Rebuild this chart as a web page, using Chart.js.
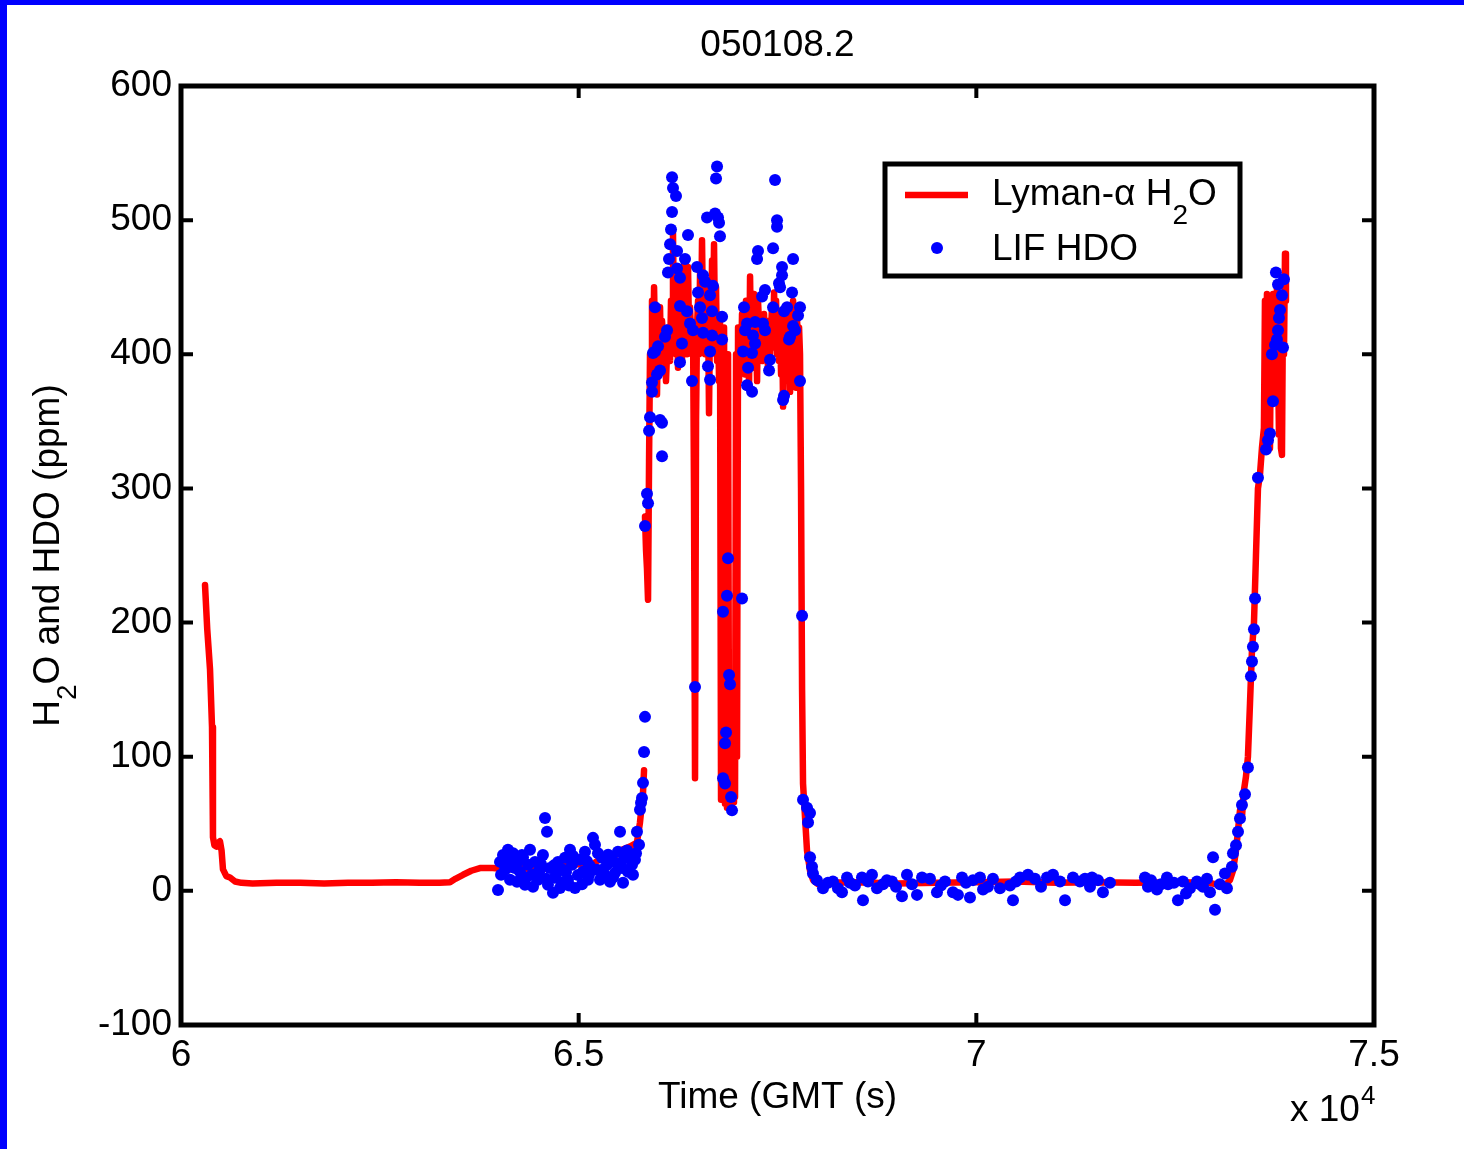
<!DOCTYPE html>
<html>
<head>
<meta charset="utf-8">
<title>050108.2</title>
<script src="https://cdn.jsdelivr.net/npm/chart.js@4.4.1/dist/chart.umd.min.js"></script>
<style>
  html, body { margin: 0; padding: 0; background: #fff; }
  #wrap { position: relative; width: 1464px; height: 1149px; overflow: hidden; }
  #c { position: absolute; left: 0; top: 0; }
  .edge { position: absolute; background: #0000ff; }
</style>
</head>
<body>
<div id="wrap">
  <canvas id="c" width="1464" height="1149"></canvas>
  <div class="edge" style="left:0;top:0;width:1464px;height:5px"></div>
  <div class="edge" style="left:0;top:0;width:7px;height:1149px"></div>
</div>
<script>
// Lyman-alpha H2O trace (time in s GMT, ppm); null = gap in the record
const lymanT = [
  60302, 60330, 60365, 60390, 60402, 60420, 60445, 60470, 60490, 60510, 60528, 60570, 60616, 60680, 60760,
  60900, 61200, 61500, 61800, 62100, 62400, 62700, 63000, 63250, 63382, 63450, 63546, 63650, 63759, 63923,
  64100, 64262, 64450, 64677, 64850, 65017, 65150, 65306, 65420, 65520, 65645, 65733, 65771, 65809, 65822,
  65828, 65834, 65847, 65859, 65872,
  65885, 65897, 65910, 65922, 65935, 65948, 65960, 65973, 65985, 65998, 66010, 66023, 66036, 66048, 66073,
  66086, 66098, 66123, 66149, 66161, 66174, 66186, 66199, 66211, 66224, 66237, 66249, 66262, 66274, 66287,
  66299, 66325, 66337, 66350, 66362, 66375, 66388, 66400, 66425, 66438, 66450, 66463, 66476, 66488, 66501,
  66513, 66526, 66538, 66551, 66564, 66576, 66589, 66601, 66614, 66626, 66639, 66652, 66664, 66677, 66689,
  66702, 66715, 66727, 66740, 66752, 66765, 66777, 66790, 66803, 66815, 66828, 66840, 66853, 66865, 66878,
  66891, 66903, 66916, 66928, 66941, 66953, 66966, 66979, 66991, 67004, 67016, 67029, 67042, 67054, 67067,
  67079, 67092, 67104, 67117, 67130, 67142, 67155, 67167, 67180, 67192, 67205, 67218, 67230, 67243, 67255,
  67280, 67293, 67306, 67331, 67343, 67356, 67381, 67394, 67406, 67431, 67444, 67457, 67469, 67482, 67494,
  67507, 67519, 67532, 67545, 67557, 67570, 67582, 67595, 67608, 67620, 67633, 67645, 67658, 67670, 67683,
  67696, 67708, 67721, 67733, 67746, 67758, 67771, 67783, 67796, 67809, 67821, 67846, 67871, 67909, 67947,
  68010, 68098, 68500, 69000, 69500, 70000, 70500, 71000, 71500, 72000, 72500, 72938, 73001, 73126, 73189,
  73227, 73265, 73290, 73315, 73340, 73365, 73390, 73415, 73441, 73466, 73491, 73516, 73541, 73566, 73591,
  73616, 73629, 73642, 73654, 73667, 73679, 73692, 73704, 73717, 73730, 73742, 73755, 73767, 73780, 73793,
  73805, 73818, 73830, 73843, 73856, 73868, 73881, 73893
];
const lymanV = [
  228, 195, 165, 122, 40, 34, 33, 36, 37, 30, 16, 11, 10, 7, 6,
  5.5, 6, 6, 5.5, 6, 6, 6.5, 6, 6, 6.5, 9, 12, 15, 17, 17,
  16, 17, 16, 17, 19, 20, 19, 25, 24, 30, 33, 36, 51, 73, 90,
  null, 279, 254, 240, 217,
  320, 400, 380, 440, 395, 450, 410, 430, 370, 420, 390, 435, 395, 425, 400,
  410, 380, 420, 395, 440, 410, 490, 420, 445, 400, 430, 390, 455, 410, 430,
  395, 470, 410, 440, 400, 465, 415, 435, 400, 420, 300, 84, 350, 420, 440,
  400, 460, 415, 485, 420, 445, 400, 455, 410, 440, 356, 430, 400, 470, 420,
  482, 410, 450, 395, 430, 380, 425, 68, 400, 70, 420, 65, 110, 62, 400,
  75, 95, 63, 105, 66, 110, 70, 400, 100, 420, 380, 410, 390, 430, 400,
  420, 385, 440, 400, 425, 375, 458, 405, 430, 390, 445, 400, 420, 380, 440,
  405, 425, 395, 430, 400, 415, 390, 425, 400, 435, 410, 446, 405, 440, 400,
  430, 395, 420, 385, 430, 361, 410, 425, 395, 435, 400, 420, 372, 425, 400,
  440, 390, 430, 375, 425, 410, 420, 400, 300, 150, 80, 55, 30, 15, 8,
  5, 6, 6.5, 5.5, 6, 6.5, 7, 6, 6.5, 6, 6.5, 6, 5, 4, 8,
  15, 30, 45, 60, 55, 75, 85, 100, 140, 180, 200, 250, 300, 310, 330,
  345, 440, 360, 445, 380, 440, 330, 420, 380, 445, 400, 430, 365, 450, 400,
  340, 430, 330, 325, 440, 400, 475, 440
];

// LIF HDO samples (time in s GMT, ppm)
const hdoT = [
  63986, 64011, 64049, 64074, 64111, 64137, 64162, 64199, 64225, 64262, 64287, 64325, 64363, 64388, 64413,
  64451, 64489, 64514, 64551, 64577, 64602, 64614, 64639, 64677, 64702, 64740, 64765, 64803, 64828, 64866,
  64891, 64916, 64954, 64991, 65017, 65054, 65079, 65117, 65142, 65180, 65205, 65230, 65268, 65293, 65331,
  65356, 65394, 65419, 65457, 65494, 65520, 65545, 65583, 65620, 65645, 65671, 65708, 65733, 65759, 65771,
  65784, 65796, 65809, 65822, 65834,
  64086, 64175, 64237, 64337, 64426, 64526, 64715, 64790, 64841, 64929, 65042, 65104, 65243, 65306, 65432,
  65482, 65558, 65608, 65683, 65721, 64024, 64150, 64300, 64470, 64590, 64690, 64880, 65130, 65370, 65530,
  65834, 65859, 65872, 65885, 65897, 65922, 65922, 65935, 65960, 65960, 65985, 65998, 66023, 66023, 66048,
  66048, 66086, 66111, 66123, 66136, 66149, 66161, 66174, 66174, 66186, 66224, 66237, 66237, 66274, 66274,
  66274, 66299, 66337, 66362, 66375, 66400, 66425, 66438, 66463, 66488, 66501, 66526, 66551, 66564, 66564,
  66589, 66614, 66626, 66652, 66652, 66652, 66677, 66677, 66689, 66715, 66727, 66740, 66752, 66765, 66777,
  66803, 66803, 66815, 66815, 66840, 66840, 66853, 66865, 66878, 66891, 66903, 66916, 66928,
  67054, 67067, 67079, 67092, 67117, 67117, 67130, 67180, 67180, 67192, 67218, 67218, 67243, 67255, 67306,
  67318, 67343, 67343, 67394, 67406, 67444, 67444, 67469, 67494, 67494, 67519, 67532, 67557, 67557, 67570,
  67582, 67582, 67620, 67645, 67658, 67683, 67696, 67696, 67721, 67758, 67783, 67783, 67809, 67821, 67871,
  67884, 67909,
  67909, 67934, 67946, 67996, 68072, 68197, 68260, 68311, 68374, 68411, 68562, 68575, 68638, 68688, 68751,
  68826, 68939, 69065, 69128, 69191, 69254, 69317, 69505, 69606, 69706, 69769, 69820, 69920, 69958, 70046,
  70084, 70146, 70423, 70461, 70549, 70649, 70888, 70964, 71052, 71115, 71215, 71303, 71429, 71454, 71592,
  71680, 72120, 72158, 72271, 72397, 72410, 72535, 72598, 72686, 72774, 72850, 72938, 72976, 73001, 73063,
  73126, 73151, 73214, 73227,
  68135, 68474, 68876, 68990, 69417, 69555, 69870, 70209, 70297, 70499, 70737, 70813, 71366, 71529, 72196,
  72322, 72485, 72636, 72812, 72900,
  73265, 73290, 73315, 73340, 73378, 73415, 73453, 73466, 73478, 73491, 73504, 73541, 73642, 73667, 73692,
  73730, 73755, 73780, 73793, 73805, 73818, 73843, 73793, 73767, 73856, 73717, 73868
];
const hdoV = [
  0.7, 21.6, 26.8, 15.7, 30.6, 8.2, 21.6, 17.1, 6.7, 14.2, 26.8, 4.5, 19.4, 30.6, 11.9,
  21.6, 8.2, 15.7, 26.8, 54.4, 44, 4.5, 17.1, -1.5, 9.7, 21.6, 2.2, 15.7, 24.6, 8.2,
  30.6, 19.4, 2.2, 11.9, 23.1, 14.2, 29.1, 8.2, 18.6, 39.5, 34.3, 15.7, 8.2, 24.6, 11.9,
  19.4, 6.7, 23.1, 13.4, 29.1, 44, 17.1, 24.6, 14.2, 26.8, 19.4, 23.1, 44, 34.3, 60.4,
  65.6, 69.3, 80.5, 103.6, 129.7,
  24, 28, 22, 10, 3, 20, 12, 6, 14, 26, 5, 22, 28, 16, 10,
  20, 6, 30, 12, 28, 12, 18, 25, 13, 9, 19, 4, 12, 27, 21,
  272, 296, 289, 343, 353, 379, 372, 401, 402, 435, 385, 406, 388, 351, 349,
  324, 413, 418, 461, 471, 482, 493, 506, 532, 524, 518, 477, 464, 457, 436,
  394, 408, 471, 432, 489, 423, 380, 418, 152, 465, 446, 435, 427, 416, 459,
  454, 502, 391, 444, 402, 381, 432, 414, 451, 505, 531, 540, 502, 498, 488,
  428, 411, 208, 84, 110, 80, 118, 220, 248, 161, 154, 70, 60,
  218, 402, 435, 418, 423, 377, 390, 401, 372, 414, 424, 408, 471, 477, 443,
  423, 448, 418, 388, 396, 479, 435, 530, 500, 495, 453, 450, 465, 459, 366,
  432, 369, 435, 411, 413, 446, 471, 421, 418, 429, 435, 380, 205, 68, 62,
  51, 58,
  25, 18, 13, 8, 2, 7, 2, -1, 10, 6, 10, -7, 7, 12, 2,
  5, 7, -4, 12, 5, -3, 10, -1, 7, -1, -3, 10, -5, 8, 10,
  1, 3, 4, -7, 10, 12, 10, 12, 7, -7, 10, 7, 3, 10, -1,
  6, 10, 3, 1, 10, 5, -7, 7, 2, 7, 3, -1, 25, -14, 5,
  13, 2, 18, 28,
  6, 4, 8, 3, 9, 4, 6, 9, 2, 7, 9, 3, 9, 8, 8,
  5, 6, -2, 5, 9,
  34, 44, 54, 64, 72, 92, 160, 171, 182, 195, 218, 308, 329, 336, 341,
  365, 407, 411, 418, 427, 433, 444, 452, 461, 405, 400, 456
];

const xTicks = [60000, 65000, 70000, 75000];
const yTicks = [-100, 0, 100, 200, 300, 400, 500, 600];

const FONT = 'Arial, "Liberation Sans", Helvetica, sans-serif';
const RED = "#ff0000", BLUE = "#0000ff";

Chart.defaults.font.family = FONT;
Chart.defaults.color = "#000";

// draws "H", subscript "2", "O..." pieces one after the other
function richText(ctx, parts, x, y, size, align) {
  const subSize = Math.round(size * 0.75);
  const widths = parts.map((p) => {
    ctx.font = (p.sub ? subSize : size) + "px " + FONT;
    return ctx.measureText(p.t).width;
  });
  const total = widths.reduce((a, b) => a + b, 0);
  let cx = align === "center" ? x - total / 2 : x;
  parts.forEach((p, i) => {
    ctx.font = (p.sub ? subSize : size) + "px " + FONT;
    ctx.fillText(p.t, cx, p.sub ? y + size * 0.52 : y);
    cx += widths[i];
  });
}

const matlabAxes = {
  id: "matlabAxes",
  afterDraw(chart) {
    const { ctx, chartArea: a, scales } = chart;
    const sx = scales.x, sy = scales.y;
    ctx.save();
    ctx.strokeStyle = "#000";
    ctx.fillStyle = "#000";

    // inward ticks on all four sides
    ctx.lineWidth = 4;
    ctx.beginPath();
    xTicks.forEach((v) => {
      const px = sx.getPixelForValue(v);
      ctx.moveTo(px, a.bottom); ctx.lineTo(px, a.bottom - 12);
      ctx.moveTo(px, a.top); ctx.lineTo(px, a.top + 12);
    });
    yTicks.forEach((v) => {
      const py = sy.getPixelForValue(v);
      ctx.moveTo(a.left, py); ctx.lineTo(a.left + 12, py);
      ctx.moveTo(a.right, py); ctx.lineTo(a.right - 12, py);
    });
    ctx.stroke();

    // axes box
    ctx.lineWidth = 5;
    ctx.strokeRect(a.left, a.top, a.right - a.left, a.bottom - a.top);

    // y axis label with subscript
    ctx.save();
    ctx.translate(49, (a.top + a.bottom) / 2);
    ctx.rotate(-Math.PI / 2);
    ctx.textBaseline = "middle";
    richText(ctx, [{ t: "H" }, { t: "2", sub: true }, { t: "O and HDO (ppm)" }], 0, 0, 37, "center");
    ctx.restore();

    // x 10^4 multiplier
    ctx.textBaseline = "alphabetic";
    ctx.font = "37px " + FONT;
    ctx.fillText("x 10", 1290, 1121);
    const w10 = ctx.measureText("x 10").width;
    ctx.font = "26px " + FONT;
    ctx.fillText("4", 1290 + w10 + 1, 1104);

    // legend
    const L = { x: 885, y: 164, w: 355, h: 112 };
    ctx.fillStyle = "#fff";
    ctx.fillRect(L.x, L.y, L.w, L.h);
    ctx.lineWidth = 5;
    ctx.strokeRect(L.x, L.y, L.w, L.h);
    ctx.strokeStyle = RED;
    ctx.lineWidth = 6.5;
    ctx.beginPath();
    ctx.moveTo(905, 195); ctx.lineTo(968, 195);
    ctx.stroke();
    ctx.fillStyle = BLUE;
    ctx.beginPath();
    ctx.arc(937, 248, 6, 0, Math.PI * 2);
    ctx.fill();
    ctx.fillStyle = "#000";
    ctx.textBaseline = "alphabetic";
    richText(ctx, [{ t: "Lyman-\u03b1 H" }, { t: "2", sub: true }, { t: "O" }], 992, 205, 37, "left");
    ctx.font = "37px " + FONT;
    ctx.fillText("LIF HDO", 992, 260);
    ctx.restore();
  }
};

const lymanPts = lymanT.map((t, i) => ({ x: t, y: lymanV[i] }));
const hdoPts = hdoT.map((t, i) => ({ x: t, y: hdoV[i] }));

new Chart(document.getElementById("c"), {
  type: "scatter",
  data: {
    datasets: [
      {
        label: "Lyman-\u03b1 H\u2082O",
        data: lymanPts,
        showLine: true,
        spanGaps: false,
        borderColor: RED,
        backgroundColor: RED,
        borderWidth: 6.5,
        borderJoinStyle: "round",
        borderCapStyle: "round",
        pointRadius: 0,
        pointHoverRadius: 0,
        order: 2,
      },
      {
        label: "LIF HDO",
        data: hdoPts,
        backgroundColor: BLUE,
        borderWidth: 0,
        pointRadius: 6,
        pointHoverRadius: 6,
        order: 1,
      },
    ],
  },
  options: {
    responsive: false,
    animation: false,
    devicePixelRatio: 1,
    layout: { padding: { left: 0, top: 0, right: 90, bottom: 0 } },
    plugins: {
      legend: { display: false },
      tooltip: { enabled: false },
      title: {
        display: true,
        fullSize: false, // centred over the plot area, not the canvas
        text: "050108.2",
        color: "#000",
        font: { size: 37, weight: "normal", lineHeight: 1.2 },
        padding: { top: 24, bottom: 17.6 },
      },
    },
    scales: {
      x: {
        type: "linear",
        min: 60000,
        max: 75000,
        grid: { display: false, drawTicks: false },
        border: { display: false },
        ticks: {
          stepSize: 5000,
          autoSkip: false,
          maxRotation: 0,
          padding: 9,
          color: "#000",
          font: { size: 37 },
          callback: (v) => String(v / 1e4),
        },
        title: {
          display: true,
          text: "Time (GMT (s)",
          color: "#000",
          font: { size: 37 },
          padding: { top: 0, bottom: 29 },
        },
        afterFit: (s) => { s.height = 124; },
      },
      y: {
        min: -100,
        max: 600,
        grid: { display: false, drawTicks: false },
        border: { display: false },
        ticks: {
          stepSize: 100,
          padding: 9,
          color: "#000",
          font: { size: 37 },
          callback: (v) => String(v),
        },
        afterFit: (s) => { s.width = 181; },
      },
    },
  },
  plugins: [matlabAxes],
});
</script>
</body>
</html>
